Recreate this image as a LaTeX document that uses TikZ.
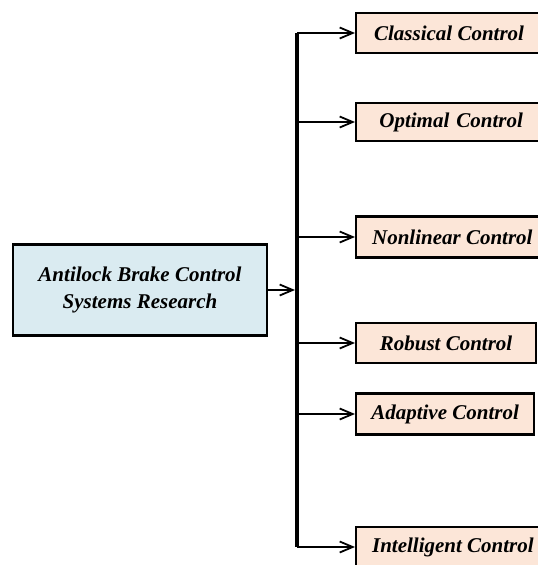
\documentclass[tikz,border=0pt]{standalone}
\usepackage{fontspec}
\setmainfont{Liberation Serif}
\usetikzlibrary{arrows.meta,positioning}
\definecolor{rootblue}{RGB}{218,235,241}
\definecolor{branchpeach}{RGB}{252,230,216}

\begin{document}
\begin{tikzpicture}[x=1pt,y=-1pt]
	\clip (0,0) rectangle (538,565);
	\begin{scope}[every node/.style={rectangle,draw,line width=2.2pt,font=\fontsize{21}{27}\selectfont\bfseries\itshape}]
		\node[fill=rootblue,minimum width=254pt,minimum height=91pt,align=center] (root) at (140,290) {Antilock Brake Control\\Systems Research};
		\node[fill=branchpeach,anchor=west,minimum height=40pt,inner xsep=18pt] (cls) at (355,33) {Classical Control};
		\node[fill=branchpeach,anchor=west,minimum height=38pt,minimum width=190pt,text width=160pt,align=center] (opt) at (355,122) {Optimal Control};
		\node[fill=branchpeach,anchor=west,minimum height=41pt,inner xsep=16pt] (nonlin) at (355,237) {Nonlinear Control};
		\node[fill=branchpeach,anchor=west,minimum height=40pt,minimum width=180pt] (robust) at (355,343) {Robust Control};
		\node[fill=branchpeach,anchor=west,minimum height=41pt,minimum width=178pt] (adapt) at (355,414) {Adaptive Control};
		\node[fill=branchpeach,anchor=west,minimum height=40pt,inner xsep=16pt] (intel) at (355,547) {Intelligent Control};
	\end{scope}
	\coordinate (bus) at (297,0);

	\begin{scope}[line width=1.8pt]
	\draw[line width=3.8pt] (bus|-cls.west) -- (bus|-intel.west);
	\draw[-{Straight Barb[length=13pt,width=11pt]},shorten >=2pt] (root.east) -- (root.east-|bus);
	\foreach \br in {cls,opt,nonlin,robust,adapt,intel}
		\draw[-{Straight Barb[length=13pt,width=11pt]}] (bus|-\br.west) -- (\br.west);
	\end{scope}
\end{tikzpicture}
\end{document}
